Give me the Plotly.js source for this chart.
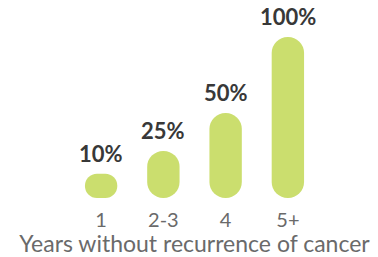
<!DOCTYPE html>
<html>
<head>
<meta charset="utf-8">
<script src="https://cdn.plot.ly/plotly-3.0.1.min.js"></script>
<style>html,body{margin:0;padding:0;background:#fff;}#chart{width:378px;height:257px;}</style>
</head>
<body>
<div id="chart"></div>
<script>
const categories = ['1', '2-3', '4', '5+'];
const values = [10, 25, 50, 100];
const labels = ['10%', '25%', '50%', '100%'];
const axisTitle = 'Years without recurrence of cancer';

const BAR_COLOR = '#cbde6e';
const CAP = 6; // rounded foot drawn below zero (style)

const bars = {
  type: 'bar', x: categories,
  y: values.map(v => v + CAP), base: -CAP,
  marker: {color: BAR_COLOR, cornerradius: '50%', line: {width: 0}},
  hoverinfo: 'skip', showlegend: false
};

const annotations = categories.map((c, i) => ({
  x: i, y: values[i], text: labels[i], showarrow: false,
  yanchor: 'bottom', yshift: 5,
  font: {family: 'Lato', size: 22, weight: 'bold', color: '#383838'}
}));

const layout = {
  width: 378, height: 257,
  margin: {l: 70, r: 59, t: 37, b: 59},
  paper_bgcolor: '#ffffff', plot_bgcolor: '#ffffff',
  bargap: 0.48,
  xaxis: {
    type: 'category', showgrid: false, zeroline: false, showline: false,
    ticks: '', ticklabelstandoff: 8,
    tickfont: {family: 'Lato', size: 20, color: '#6a6a6a'},
    title: {text: axisTitle, font: {family: 'Lato', size: 23, color: '#6a6a6a'}, standoff: 0}
  },
  yaxis: {range: [-CAP, 100], visible: false, fixedrange: true},
  annotations: annotations
};

Plotly.newPlot('chart', [bars], layout, {displayModeBar: false, staticPlot: true});
</script>
</body>
</html>
